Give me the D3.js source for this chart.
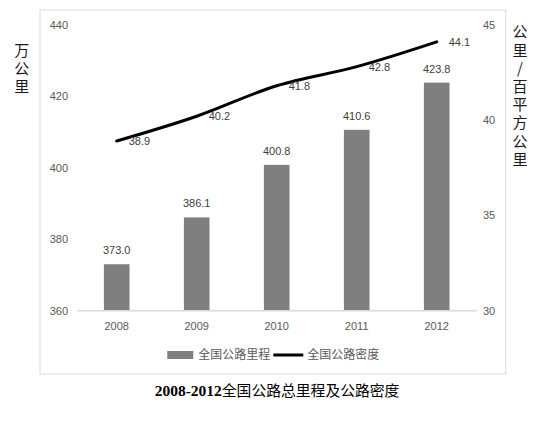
<!DOCTYPE html>
<html><head><meta charset="utf-8">
<script src="https://cdn.jsdelivr.net/npm/d3@7"></script>
<style>
html,body{margin:0;padding:0;background:#fff;}
svg{display:block;}
.vt{writing-mode:vertical-rl;text-orientation:upright;}
</style>
</head><body>
<svg id="c" width="554" height="421"></svg>
<script>
const years = ["2008","2009","2010","2011","2012"];
const mileage = [373.0, 386.1, 400.8, 410.6, 423.8];
const density = [38.9, 40.2, 41.8, 42.8, 44.1];
const leftTicks = [360, 380, 400, 420, 440];
const rightTicks = [30, 35, 40, 45];
const leftTitle = "万公里";
const rightTitle = "公里/百平方公里";
const legendNames = ["全国公路里程","全国公路密度"];
const titleDigits = "2008-2012";
const titleText = "全国公路总里程及公路密度";

const svg = d3.select("#c");
const sans = "'Liberation Sans', Arial, sans-serif";
const cjk = "'Noto Sans CJK SC', sans-serif";

// chart frame
svg.append("rect").attr("x",40).attr("y",10).attr("width",465.7).attr("height",364)
  .attr("fill","#fff").attr("stroke","#d9d9d9").attr("stroke-width",1);

const x = d3.scaleBand().domain(years).range([76.7,476.7]).paddingInner(0.68).paddingOuter(0.34);
const yL = d3.scaleLinear().domain([360,440]).range([310.7,24.7]);
const yR = d3.scaleLinear().domain([30,45]).range([310.7,24.7]);

// left tick labels
svg.append("g").selectAll("text").data(leftTicks).join("text")
  .attr("x",68).attr("y",d=>yL(d)+4).attr("text-anchor","end")
  .attr("font-family",sans).attr("font-size",11).attr("fill","#595959").text(d=>d);
// right tick labels
svg.append("g").selectAll("text").data(rightTicks).join("text")
  .attr("x",483).attr("y",d=>yR(d)+4).attr("text-anchor","start")
  .attr("font-family",sans).attr("font-size",11).attr("fill","#595959").text(d=>d);

// bars
svg.append("g").selectAll("rect").data(mileage).join("rect")
  .attr("x",(d,i)=>x(years[i])).attr("width",x.bandwidth())
  .attr("y",d=>yL(d)).attr("height",d=>yL(360)-yL(d))
  .attr("fill","#7f7f7f");

// baseline
svg.append("line").attr("x1",76.7).attr("x2",476.7).attr("y1",yL(360)).attr("y2",yL(360))
  .attr("stroke","#d9d9d9").attr("stroke-width",1.5);

// x labels
svg.append("g").selectAll("text").data(years).join("text")
  .attr("x",d=>x(d)+x.bandwidth()/2).attr("y",329.5).attr("text-anchor","middle")
  .attr("font-family",sans).attr("font-size",11).attr("fill","#595959").text(d=>d);

// bar labels
svg.append("g").selectAll("text").data(mileage).join("text")
  .attr("x",(d,i)=>x(years[i])+x.bandwidth()/2).attr("y",d=>yL(d)-10).attr("text-anchor","middle")
  .attr("font-family",sans).attr("font-size",11).attr("fill","#404040").text(d=>d.toFixed(1));

// line
const line = d3.line().x((d,i)=>x(years[i])+x.bandwidth()/2).y(d=>yR(d)).curve(d3.curveCatmullRom.alpha(0.5));
svg.append("path").datum(density).attr("d",line).attr("fill","none")
  .attr("stroke","#000").attr("stroke-width",3).attr("stroke-linecap","round");

// line labels
svg.append("g").selectAll("text").data(density).join("text")
  .attr("x",(d,i)=>x(years[i])+x.bandwidth()/2+12).attr("y",d=>yR(d)+4).attr("text-anchor","start")
  .attr("font-family",sans).attr("font-size",11).attr("fill","#404040").text(d=>d.toFixed(1));

// axis titles (vertical)
svg.append("text").attr("class","vt").attr("x",21.7).attr("y",42.5)
  .attr("font-family",cjk).attr("font-size",15).attr("letter-spacing",3.4)
  .attr("fill","#1a1a1a").text(leftTitle);
svg.append("text").attr("class","vt").attr("x",520).attr("y",24.2)
  .attr("font-family",cjk).attr("font-size",15).attr("letter-spacing",3.2)
  .attr("fill","#1a1a1a").text(rightTitle);

// legend
const lg = svg.append("g");
lg.append("rect").attr("x",167.3).attr("y",351).attr("width",26).attr("height",8).attr("fill","#7f7f7f");
lg.append("text").attr("x",198.3).attr("y",359.3).attr("font-family",cjk).attr("font-size",12)
  .attr("fill","#595959").text(legendNames[0]);
lg.append("line").attr("x1",273.3).attr("x2",303.3).attr("y1",355).attr("y2",355)
  .attr("stroke","#000").attr("stroke-width",3);
lg.append("text").attr("x",307.3).attr("y",359.3).attr("font-family",cjk).attr("font-size",12)
  .attr("fill","#595959").text(legendNames[1]);

// title
const t = svg.append("text").attr("x",277).attr("y",395.5).attr("text-anchor","middle").attr("fill","#000");
t.append("tspan").attr("font-family","'Liberation Serif', serif").attr("font-weight","bold").attr("font-size",15.5).text(titleDigits);
t.append("tspan").attr("font-family",cjk).attr("font-size",14.8).text(titleText);
</script>
</body></html>
